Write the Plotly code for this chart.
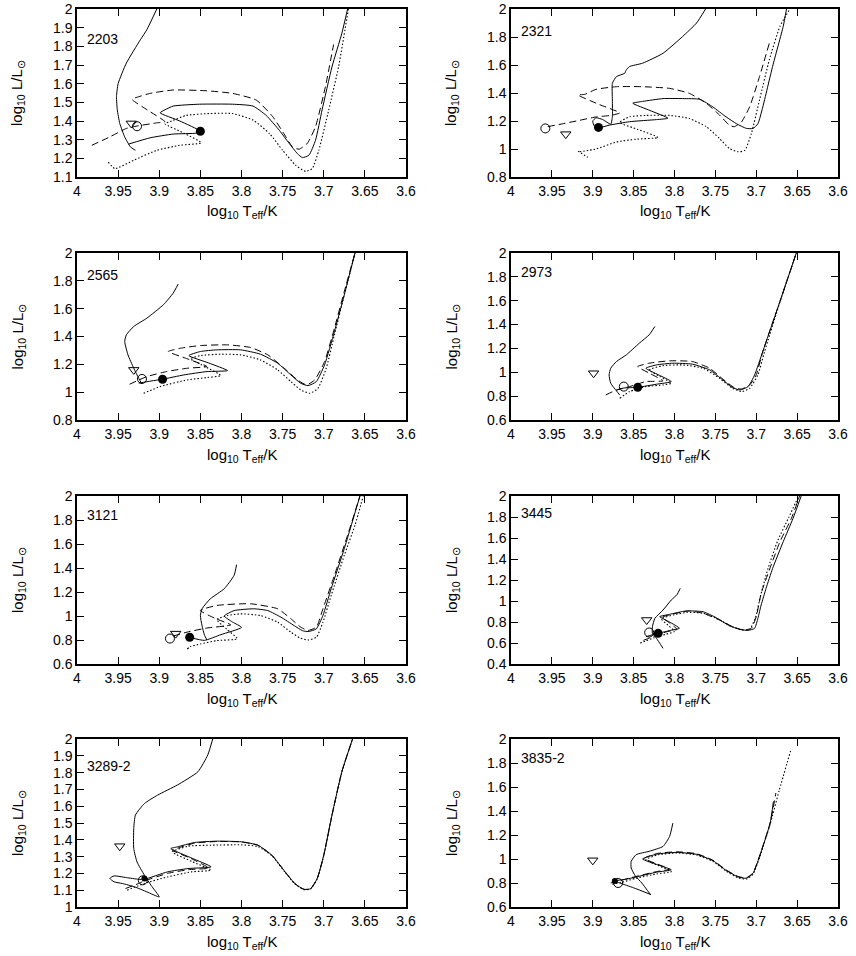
import plotly.graph_objects as go

# ---------------- data ----------------
panel_names = ["2203", "2321", "2565", "2973", "3121", "3445", "3289-2", "3835-2"]

x_tick_vals = [4.0, 3.95, 3.9, 3.85, 3.8, 3.75, 3.7, 3.65, 3.6]
x_tick_text = ["4", "3.95", "3.9", "3.85", "3.8", "3.75", "3.7", "3.65", "3.6"]

y_ticks_2203 = [1.1, 1.2, 1.3, 1.4, 1.5, 1.6, 1.7, 1.8, 1.9, 2.0]
y_ticks_2321 = [0.8, 1.0, 1.2, 1.4, 1.6, 1.8, 2.0]
y_ticks_2565 = [0.8, 1.0, 1.2, 1.4, 1.6, 1.8, 2.0]
y_ticks_2973 = [0.6, 0.8, 1.0, 1.2, 1.4, 1.6, 1.8, 2.0]
y_ticks_3121 = [0.6, 0.8, 1.0, 1.2, 1.4, 1.6, 1.8, 2.0]
y_ticks_3445 = [0.4, 0.6, 0.8, 1.0, 1.2, 1.4, 1.6, 1.8, 2.0]
y_ticks_3289 = [1.0, 1.1, 1.2, 1.3, 1.4, 1.5, 1.6, 1.7, 1.8, 1.9, 2.0]
y_ticks_3835 = [0.6, 0.8, 1.0, 1.2, 1.4, 1.6, 1.8, 2.0]

# ---- 2203 ----
T_2203_solid = [3.903, 3.915, 3.923, 3.940, 3.950, 3.952, 3.951, 3.948, 3.942, 3.935, 3.929, None,
                3.9375, 3.911, 3.883, 3.855, 3.850, 3.875, 3.899, 3.893, 3.883, 3.851, 3.811, 3.786,
                3.770, 3.754, 3.742, 3.732, 3.726, 3.718, 3.710, 3.702, 3.690, 3.678, 3.671]
L_2203_solid = [2.0, 1.89, 1.835, 1.71, 1.60, 1.53, 1.46, 1.387, 1.315, 1.261, 1.243, None,
                1.276, 1.31, 1.33, 1.335, 1.345, 1.40, 1.444, 1.46, 1.48, 1.49, 1.49, 1.48,
                1.43, 1.35, 1.28, 1.225, 1.204, 1.217, 1.297, 1.46, 1.69, 1.87, 2.0]
T_2203_dash = [3.982, 3.960, 3.940, 3.927, 3.903, 3.893, 3.913, 3.933, 3.925, 3.911, 3.883, 3.843,
               3.811, 3.782, 3.762, 3.746, 3.738, 3.730, 3.720, 3.710, 3.698, 3.688]
L_2203_dash = [1.27, 1.315, 1.36, 1.373, 1.39, 1.396, 1.455, 1.516, 1.53, 1.548, 1.566, 1.562,
               1.548, 1.512, 1.423, 1.315, 1.261, 1.249, 1.28, 1.37, 1.584, 1.81]
T_2203_dot = [3.962, 3.954, 3.931, 3.903, 3.875, 3.849, 3.870, 3.893, 3.885, 3.867, 3.839, 3.811,
              3.786, 3.766, 3.750, 3.734, 3.722, 3.714, 3.706, 3.694, 3.682, 3.670]
L_2203_dot = [1.18, 1.145, 1.19, 1.243, 1.27, 1.283, 1.335, 1.385, 1.40, 1.43, 1.44, 1.44,
              1.405, 1.333, 1.243, 1.163, 1.13, 1.145, 1.243, 1.458, 1.69, 2.0]
T_2203_marks = [3.927, 3.850, 3.934]   # open circle, filled circle, triangle
L_2203_marks = [1.372, 1.345, 1.387]

# ---- 2321 ----
T_2321_solid = [3.762, 3.773, 3.790, 3.814, 3.839, 3.855, 3.859, 3.861, 3.871, 3.876, 3.876, 3.876, 3.878,
                3.888, 3.896, 3.900, 3.898, 3.892, 3.880, 3.855, 3.822, 3.808, 3.830, 3.851, 3.839,
                3.814, 3.790, 3.769, 3.753, 3.737, 3.724, 3.712, 3.704, 3.698, 3.692, 3.680, 3.667, 3.663]
L_2321_solid = [2.0, 1.90, 1.804, 1.684, 1.613, 1.589, 1.565, 1.541, 1.517, 1.469, 1.35, 1.23, 1.177,
                1.211, 1.223, 1.199, 1.163, 1.152, 1.170, 1.195, 1.21, 1.22, 1.275, 1.327, 1.34,
                1.36, 1.36, 1.355, 1.30, 1.23, 1.18, 1.147, 1.147, 1.18, 1.30, 1.59, 1.876, 2.0]
T_2321_dash = [3.955, 3.937, 3.916, 3.896, 3.878, 3.867, 3.893, 3.918, 3.910, 3.896, 3.871, 3.839,
               3.806, 3.782, 3.761, 3.745, 3.733, 3.727, 3.718, 3.708, 3.696, 3.684]
L_2321_dash = [1.16, 1.18, 1.205, 1.229, 1.24, 1.258, 1.32, 1.386, 1.39, 1.426, 1.445, 1.445,
               1.433, 1.398, 1.326, 1.243, 1.171, 1.159, 1.194, 1.302, 1.517, 1.756]
T_2321_dot = [3.918, 3.906, None,
              3.916, 3.896, 3.871, 3.847, 3.820, 3.845, 3.867, 3.855, 3.835, 3.806, 3.782,
              3.761, 3.745, 3.733, 3.722, 3.714, 3.706, 3.696, 3.684, 3.671, 3.659]
L_2321_dot = [0.985, 0.94, None,
              0.98, 1.0, 1.05, 1.07, 1.082, 1.14, 1.19, 1.23, 1.24, 1.24, 1.218,
              1.159, 1.075, 1.004, 0.98, 0.99, 1.11, 1.35, 1.637, 1.876, 2.0]
T_2321_marks = [3.958, 3.893, 3.933]
L_2321_marks = [1.147, 1.154, 1.106]

# ---- 2565 ----
T_2565_solid = [3.877, 3.883, 3.895, 3.915, 3.931, 3.940, 3.942, 3.938, 3.931, 3.925, 3.921, None,
                3.925, 3.910, 3.896, 3.870, 3.842, 3.817, 3.840, 3.864, 3.850, 3.830, 3.801, 3.777,
                3.756, 3.740, 3.728, 3.719, 3.709, 3.699, 3.687, 3.675, 3.662]
L_2565_solid = [1.777, 1.712, 1.628, 1.532, 1.472, 1.412, 1.364, 1.268, 1.172, 1.10, 1.059, None,
                1.065, 1.08, 1.093, 1.124, 1.148, 1.155, 1.21, 1.263, 1.292, 1.304, 1.304, 1.273,
                1.208, 1.124, 1.064, 1.047, 1.076, 1.196, 1.436, 1.70, 2.0]
T_2565_dash = [3.936, 3.915, 3.891, 3.866, 3.842, 3.866, 3.889, 3.874, 3.850, 3.817, 3.789, 3.768,
               3.748, 3.732, 3.721, 3.711, 3.699, 3.687, 3.675, 3.662]
L_2565_dash = [1.057, 1.112, 1.148, 1.172, 1.184, 1.24, 1.292, 1.316, 1.335, 1.34, 1.321, 1.268,
               1.172, 1.088, 1.052, 1.088, 1.22, 1.46, 1.724, 2.0]
T_2565_dot = [3.919, 3.899, 3.866, 3.842, 3.825, 3.843, 3.862, 3.850, 3.825, 3.801, 3.777, 3.756,
              3.740, 3.728, 3.717, 3.707, 3.697, 3.687, 3.675, 3.662]
L_2565_dot = [0.992, 1.04, 1.088, 1.105, 1.119, 1.18, 1.24, 1.263, 1.273, 1.268, 1.232, 1.16,
              1.076, 1.016, 0.992, 1.028, 1.172, 1.412, 1.70, 2.0]
T_2565_marks = [3.921, 3.896, 3.931]
L_2565_marks = [1.095, 1.093, 1.16]

# ---- 2973 ----
T_2973_solid = [3.824, 3.831, 3.843, 3.859, 3.871, 3.878, 3.880, 3.878, 3.871, 3.867, None,
                3.871, 3.862, 3.845, 3.822, 3.804, 3.820, 3.835, 3.822, 3.802, 3.778, 3.757,
                3.741, 3.729, 3.720, 3.710, 3.702, 3.692, 3.671, 3.651]
L_2973_solid = [1.384, 1.314, 1.244, 1.146, 1.09, 1.034, 0.978, 0.908, 0.844, 0.81, None,
                0.85, 0.868, 0.874, 0.90, 0.922, 0.98, 1.034, 1.062, 1.076, 1.068, 1.02,
                0.936, 0.872, 0.852, 0.88, 0.978, 1.174, 1.594, 2.0]
T_2973_dash = [3.884, 3.871, 3.855, 3.835, 3.814, 3.830, 3.845, 3.831, 3.806, 3.778, 3.757, 3.741,
               3.727, 3.718, 3.708, 3.700, 3.692, 3.671, 3.651]
L_2973_dash = [0.81, 0.852, 0.88, 0.922, 0.928, 0.99, 1.048, 1.076, 1.096, 1.09, 1.034, 0.944,
               0.872, 0.86, 0.894, 0.978, 1.174, 1.594, 2.0]
T_2973_dot = [3.867, 3.855, 3.835, 3.814, 3.804, 3.818, 3.831, 3.814, 3.790, 3.765, 3.745, 3.729,
              3.718, 3.708, 3.698, 3.690, 3.671, 3.651]
L_2973_dot = [0.782, 0.838, 0.88, 0.894, 0.908, 0.965, 1.02, 1.056, 1.062, 1.034, 0.95, 0.866,
              0.838, 0.866, 0.978, 1.17, 1.59, 2.0]
T_2973_marks = [3.862, 3.845, 3.899]
L_2973_marks = [0.88, 0.874, 0.992]

# ---- 3121 ----
T_3121_solid = [3.806, 3.809, 3.821, 3.838, 3.848, 3.850, 3.848, 3.845, 3.842, None,
                3.863, 3.845, 3.825, 3.800, 3.811, 3.821, 3.809, 3.785, 3.768, 3.752, 3.736,
                3.726, 3.719, 3.709, 3.701, 3.691, 3.675, 3.656]
L_3121_solid = [1.428, 1.339, 1.227, 1.143, 1.06, 1.004, 0.92, 0.84, 0.80, None,
                0.822, 0.797, 0.845, 0.905, 0.95, 1.0, 1.045, 1.06, 1.045, 0.99, 0.92,
                0.878, 0.87, 0.893, 1.004, 1.227, 1.562, 2.0]
T_3121_dash = [3.883, 3.866, 3.842, 3.813, 3.832, 3.850, 3.830, 3.789, 3.756, 3.740, 3.728, 3.719,
               3.709, 3.701, 3.687, 3.671, 3.656]
L_3121_dash = [0.833, 0.866, 0.9, 0.926, 0.98, 1.046, 1.088, 1.102, 1.06, 0.977, 0.907, 0.88,
               0.907, 1.06, 1.339, 1.673, 2.0]
T_3121_dot = [3.866, 3.862, 3.850, 3.830, 3.805, 3.818, 3.830, 3.817, 3.801, 3.777, 3.756, 3.740,
              3.728, 3.719, 3.709, 3.701, 3.691, 3.675, 3.662, 3.652]
L_3121_dot = [0.725, 0.745, 0.767, 0.795, 0.81, 0.89, 0.97, 1.004, 1.018, 1.004, 0.948, 0.865,
              0.814, 0.80, 0.823, 0.948, 1.171, 1.506, 1.757, 2.0]
T_3121_marks = [3.887, 3.863, 3.880]
L_3121_marks = [0.812, 0.823, 0.853]

# ---- 3445 ----
T_3445_solid = [3.793, 3.797, 3.804, 3.814, 3.824, 3.827, 3.827, 3.822, 3.814, None,
                3.835, 3.826, 3.820, 3.805, 3.794, 3.806, 3.818, 3.806, 3.786, 3.765, 3.749,
                3.733, 3.720, 3.710, 3.702, 3.698, 3.694, 3.688, 3.680, 3.667, 3.655, 3.645]
L_3445_solid = [1.12, 1.06, 1.009, 0.914, 0.835, 0.755, 0.692, 0.644, 0.549, None,
                0.66, 0.68, 0.692, 0.72, 0.74, 0.80, 0.851, 0.873, 0.905, 0.898, 0.841,
                0.765, 0.73, 0.72, 0.74, 0.835, 0.962, 1.12, 1.31, 1.565, 1.787, 2.0]
T_3445_dash = [3.838, 3.830, 3.820, 3.808, 3.797, 3.806, 3.815, 3.798, 3.782, 3.765, 3.745, 3.729,
               3.716, 3.706, 3.700, 3.694, 3.684, 3.671, 3.657, 3.647]
L_3445_dash = [0.625, 0.65, 0.68, 0.71, 0.73, 0.79, 0.845, 0.883, 0.905, 0.883, 0.819, 0.756,
               0.724, 0.74, 0.851, 1.073, 1.295, 1.565, 1.787, 2.0]
T_3445_dot = [3.842, 3.835, 3.825, 3.810, 3.800, 3.808, 3.816, 3.800, 3.785, 3.765, 3.747, 3.731,
              3.718, 3.708, 3.701, 3.695, 3.686, 3.674, 3.660, 3.648]
L_3445_dot = [0.60, 0.62, 0.65, 0.685, 0.71, 0.77, 0.83, 0.87, 0.89, 0.885, 0.83, 0.76,
              0.725, 0.73, 0.84, 1.04, 1.30, 1.57, 1.80, 2.0]
T_3445_marks = [3.831, 3.820, 3.834]
L_3445_marks = [0.70, 0.692, 0.819]

# ---- 3289-2 ----
T_3289_solid = [3.835, 3.841, 3.853, 3.878, 3.902, 3.918, 3.929, 3.931, 3.931, 3.927, 3.918, 3.910, 3.900,
                3.915, 3.930, 3.945, 3.955, 3.960, 3.955, 3.940, 3.925, 3.918, 3.890, 3.865, 3.837,
                3.860, 3.886, 3.878, 3.857, 3.829, 3.800, 3.780, 3.763, 3.747, 3.735, 3.724, 3.716,
                3.708, 3.700, 3.690, 3.678, 3.665]
L_3289_solid = [2.0, 1.905, 1.805, 1.726, 1.666, 1.616, 1.547, 1.467, 1.348, 1.268, 1.189, 1.129, 1.06,
                1.09, 1.12, 1.14, 1.15, 1.17, 1.185, 1.175, 1.165, 1.165, 1.209, 1.229, 1.239,
                1.29, 1.348, 1.358, 1.384, 1.392, 1.388, 1.368, 1.308, 1.209, 1.139, 1.105, 1.109,
                1.169, 1.308, 1.547, 1.805, 2.0]
T_3289_dash = [3.941, 3.925, 3.918, 3.890, 3.865, 3.840, 3.862, 3.884, 3.878, 3.857, 3.829, 3.800,
               3.780, 3.763, 3.747, 3.735, 3.724, 3.716, 3.708, 3.700, 3.690, 3.678, 3.665]
L_3289_dash = [1.11, 1.14, 1.155, 1.20, 1.222, 1.232, 1.29, 1.338, 1.35, 1.38, 1.39, 1.387,
               1.368, 1.308, 1.209, 1.139, 1.105, 1.109, 1.169, 1.308, 1.547, 1.805, 2.0]
T_3289_dot = [3.939, 3.918, 3.890, 3.861, 3.837, 3.860, 3.884, 3.865, 3.837, 3.800, 3.780, 3.763,
              3.747, 3.735, 3.724, 3.716, 3.708, 3.700, 3.690, 3.678, 3.665]
L_3289_dot = [1.10, 1.14, 1.179, 1.209, 1.219, 1.27, 1.328, 1.362, 1.368, 1.37, 1.36, 1.305,
              1.207, 1.137, 1.103, 1.107, 1.167, 1.306, 1.545, 1.803, 2.0]
T_3289_marks = [3.920, 3.918, 3.948]
L_3289_marks = [1.159, 1.17, 1.362]

# ---- 3835-2 ----
T_3835_solid = [3.802, 3.806, 3.814, 3.831, 3.847, 3.853, 3.853, 3.848, 3.840, 3.829, None,
                3.829, 3.850, 3.867, 3.873, 3.860, 3.847, 3.822, 3.804, 3.822, 3.839, 3.822,
                3.797, 3.773, 3.753, 3.737, 3.722, 3.712, 3.704, 3.696, 3.683, 3.679]
L_3835_solid = [1.299, 1.188, 1.105, 1.064, 1.036, 0.98, 0.925, 0.86, 0.80, 0.70, None,
                0.704, 0.76, 0.80, 0.817, 0.83, 0.85, 0.89, 0.91, 0.955, 1.0, 1.04,
                1.055, 1.039, 0.986, 0.906, 0.85, 0.84, 0.88, 1.02, 1.30, 1.48]
T_3835_dash = [3.878, 3.867, 3.847, 3.822, 3.806, 3.822, 3.837, 3.822, 3.797, 3.773, 3.753, 3.737,
               3.722, 3.712, 3.704, 3.696, 3.683, 3.676]
L_3835_dash = [0.80, 0.82, 0.855, 0.895, 0.915, 0.96, 1.005, 1.045, 1.06, 1.044, 0.99, 0.91,
               0.854, 0.844, 0.884, 1.024, 1.30, 1.55]
T_3835_dot = [3.876, 3.865, 3.847, 3.822, 3.804, 3.820, 3.835, 3.820, 3.797, 3.773, 3.753, 3.737,
              3.722, 3.712, 3.704, 3.696, 3.683, 3.672, 3.658]
L_3835_dot = [0.79, 0.805, 0.84, 0.875, 0.895, 0.945, 0.995, 1.035, 1.05, 1.034, 0.98, 0.90,
              0.843, 0.833, 0.873, 1.013, 1.29, 1.57, 1.90]
T_3835_marks = [3.869, 3.873, 3.900]
L_3835_marks = [0.80, 0.817, 0.989]

# ---------------- assemble ----------------
panels = [
    (T_2203_solid, L_2203_solid, T_2203_dash, L_2203_dash, T_2203_dot, L_2203_dot, T_2203_marks, L_2203_marks, y_ticks_2203),
    (T_2321_solid, L_2321_solid, T_2321_dash, L_2321_dash, T_2321_dot, L_2321_dot, T_2321_marks, L_2321_marks, y_ticks_2321),
    (T_2565_solid, L_2565_solid, T_2565_dash, L_2565_dash, T_2565_dot, L_2565_dot, T_2565_marks, L_2565_marks, y_ticks_2565),
    (T_2973_solid, L_2973_solid, T_2973_dash, L_2973_dash, T_2973_dot, L_2973_dot, T_2973_marks, L_2973_marks, y_ticks_2973),
    (T_3121_solid, L_3121_solid, T_3121_dash, L_3121_dash, T_3121_dot, L_3121_dot, T_3121_marks, L_3121_marks, y_ticks_3121),
    (T_3445_solid, L_3445_solid, T_3445_dash, L_3445_dash, T_3445_dot, L_3445_dot, T_3445_marks, L_3445_marks, y_ticks_3445),
    (T_3289_solid, L_3289_solid, T_3289_dash, L_3289_dash, T_3289_dot, L_3289_dot, T_3289_marks, L_3289_marks, y_ticks_3289),
    (T_3835_solid, L_3835_solid, T_3835_dash, L_3835_dash, T_3835_dot, L_3835_dot, T_3835_marks, L_3835_marks, y_ticks_3835),
]

W, H = 856, 956
col_px = [(77, 406), (511, 838)]           # plot-area edges in page pixels
row_px = [(9, 177), (253, 420), (496, 664), (739, 907)]
FONT = "Liberation Sans, Arial, sans-serif"
TICK_SIZE, TITLE_SIZE, LABEL_SIZE = 14, 15, 14
SPLINE = dict(shape="spline", smoothing=0.5)

def fmt(v):
    return f"{v:g}"

def fx(px):
    return px / W

def fy(py):
    return 1 - py / H

fig = go.Figure()
layout = dict(width=W, height=H, margin=dict(l=0, r=0, t=0, b=0, autoexpand=False),
              paper_bgcolor="white", plot_bgcolor="white", showlegend=False,
              font=dict(family=FONT, size=TICK_SIZE, color="black"))
annotations = []

for i, (ts, ls, td, ld, tt, lt, tm, lm, yt) in enumerate(panels):
    r, c = divmod(i, 2)
    x0, x1 = col_px[c]
    y0, y1 = row_px[r]
    n = "" if i == 0 else str(i + 1)
    xa, ya = "x" + n, "y" + n
    axis_common = dict(showgrid=False, zeroline=False, showline=True, linecolor="black",
                       linewidth=1.5, mirror="ticks", ticks="inside", ticklen=7,
                       tickwidth=1.2, tickcolor="black",
                       tickfont=dict(family=FONT, size=TICK_SIZE, color="black"))
    layout["xaxis" + n] = dict(domain=[fx(x0), fx(x1)], range=[4.0, 3.6], anchor=ya,
                               tickvals=x_tick_vals, ticktext=x_tick_text, **axis_common)
    layout["yaxis" + n] = dict(domain=[fy(y1), fy(y0)], range=[yt[0], yt[-1]], anchor=xa,
                               tickvals=yt, ticktext=[fmt(v) for v in yt], **axis_common)

    fig.add_trace(go.Scatter(x=tt, y=lt, mode="lines", xaxis=xa, yaxis=ya,
                             line=dict(color="black", width=1.1, dash="1.5px,2px", **SPLINE)))
    fig.add_trace(go.Scatter(x=td, y=ld, mode="lines", xaxis=xa, yaxis=ya,
                             line=dict(color="black", width=1, dash="7px,4px", **SPLINE)))
    fig.add_trace(go.Scatter(x=ts, y=ls, mode="lines", xaxis=xa, yaxis=ya,
                             line=dict(color="black", width=1, **SPLINE)))
    small = i >= 6
    fig.add_trace(go.Scatter(x=[tm[0]], y=[lm[0]], mode="markers", xaxis=xa, yaxis=ya,
                             marker=dict(symbol="circle-open", size=9, color="black",
                                         line=dict(width=1, color="black"))))
    fig.add_trace(go.Scatter(x=[tm[1]], y=[lm[1]], mode="markers", xaxis=xa, yaxis=ya,
                             marker=dict(symbol="circle", size=6 if small else 9, color="black")))
    fig.add_trace(go.Scatter(x=[tm[2]], y=[lm[2]], mode="markers", xaxis=xa, yaxis=ya,
                             marker=dict(symbol="triangle-down-open", size=9, color="black",
                                         line=dict(width=1, color="black"))))

    annotations.append(dict(text=panel_names[i], x=3.99, y=1.84, xref=xa, yref=ya,
                            xanchor="left", yanchor="middle", showarrow=False,
                            font=dict(family=FONT, size=LABEL_SIZE, color="black")))
    annotations.append(dict(text="log<sub>10</sub> T<sub>eff</sub>/K",
                            x=fx((x0 + x1) / 2), y=fy(y1 + 35), xref="paper", yref="paper",
                            xanchor="center", yanchor="middle", showarrow=False,
                            font=dict(family=FONT, size=TITLE_SIZE, color="black")))
    annotations.append(dict(text="log<sub>10</sub> L/L<sub>⊙</sub>",
                            x=fx(x0 - 59), y=fy((y0 + y1) / 2), xref="paper", yref="paper",
                            xanchor="center", yanchor="middle", textangle=-90, showarrow=False,
                            font=dict(family=FONT, size=TITLE_SIZE, color="black")))

layout["annotations"] = annotations
fig.update_layout(**layout)
# remove the browser's default 8px body margin so the figure fills the window exactly
fig.write_html("out.html", config={"displayModeBar": False},
               post_script="document.body.style.margin='0';")
